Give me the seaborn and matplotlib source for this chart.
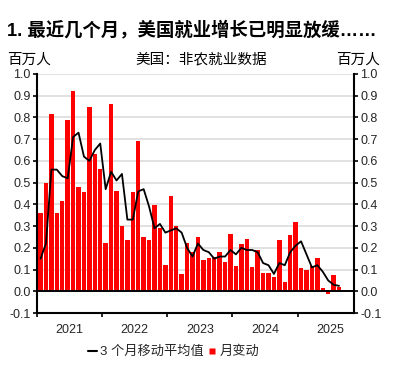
import numpy as np
import pandas as pd
import matplotlib
matplotlib.use("Agg")
import matplotlib.pyplot as plt
import seaborn as sns
from matplotlib.lines import Line2D
from matplotlib.ticker import FormatStrFormatter

# US nonfarm payrolls, monthly change (millions), Jan 2021 - Aug 2025
months = pd.date_range("2021-01-01", "2025-08-01", freq="MS")
monthly_change = [
    0.36, 0.50, 0.815, 0.36, 0.415, 0.79, 0.92, 0.48, 0.457, 0.85, 0.63, 0.565,   # 2021
    0.22, 0.86, 0.46, 0.30, 0.237, 0.455, 0.69, 0.25, 0.235, 0.395, 0.29, 0.123,  # 2022
    0.437, 0.30, 0.08, 0.22, 0.18, 0.25, 0.145, 0.152, 0.157, 0.18, 0.137, 0.265,  # 2023
    0.115, 0.218, 0.242, 0.114, 0.188, 0.083, 0.083, 0.068, 0.234, 0.042, 0.257, 0.318,  # 2024
    0.106, 0.098, 0.118, 0.154, 0.015, -0.014, 0.077, 0.018,  # 2025
]
# 3-month moving average as drawn
moving_avg = [
    0.15, 0.22, 0.56, 0.56, 0.53, 0.52, 0.71, 0.73, 0.62, 0.60, 0.65, 0.68,
    0.47, 0.55, 0.51, 0.54, 0.33, 0.33, 0.46, 0.47, 0.39, 0.29, 0.31, 0.27,
    0.28, 0.29, 0.27, 0.20, 0.16, 0.22, 0.19, 0.18, 0.15, 0.16, 0.16, 0.19,
    0.17, 0.20, 0.19, 0.19, 0.18, 0.13, 0.12, 0.08, 0.13, 0.12, 0.18, 0.21,
    0.23, 0.17, 0.11, 0.12, 0.09, 0.05, 0.03, 0.025,
]
years = ["2021", "2022", "2023", "2024", "2025"]

RED = "#ff0000"
GREY_TXT = "#262626"
GRID = "#d9d9d9"

sns.set_theme(style="white")
plt.rcParams["font.family"] = ["Liberation Sans", "Noto Sans CJK SC"]
plt.rcParams["axes.unicode_minus"] = False

df = pd.DataFrame({"month": months, "change": monthly_change, "ma3": moving_avg})
# month index from Jan 2021, bar sits inside its month slot
df["pos"] = (df["month"].dt.year - 2021) * 12 + df["month"].dt.month - 1 + 0.65

fig = plt.figure(figsize=(4.08, 3.70), dpi=100)
ax = fig.add_axes([0.0907, 0.154, 0.7769, 0.646])

# horizontal grid
ax.yaxis.grid(True, color=GRID, lw=1.1)
ax.set_axisbelow(True)

sns.barplot(data=df, x="pos", y="change", native_scale=True, orient="x",
            width=0.82, color=RED, saturation=1, errorbar=None,
            linewidth=0, ax=ax, zorder=2)
ax.axhline(0, color="black", lw=1.4, zorder=3)
sns.lineplot(data=df, x="pos", y="ma3", color="black", lw=1.3, ax=ax, zorder=4)

ax.set_xlim(0, 58.4)
ax.set_ylim(-0.1, 1.0)
ax.set_xlabel("")
ax.set_ylabel("")

# y ticks on both sides
ax.set_yticks(np.round(np.arange(-0.1, 1.01, 0.1), 1))
ax.yaxis.set_major_formatter(FormatStrFormatter("%.1f"))
ax.tick_params(axis="y", left=True, right=True, labelleft=True, labelright=True,
               direction="out", length=3, width=1.2, pad=1.5,
               labelsize=9, labelcolor=GREY_TXT, color="black")

# year boundaries as ticks, labels in the middle of each year
ax.set_xticks([0, 12, 24, 36, 48])
ax.set_xticklabels([])
ax.set_xticks([6, 18, 30, 42, 54], minor=True)
ax.set_xticklabels(years, minor=True)
ax.tick_params(axis="x", which="major", bottom=True, direction="out",
               length=3, width=1.2, color="black")
ax.tick_params(axis="x", which="minor", bottom=False, length=0, pad=8,
               labelsize=9, labelcolor=GREY_TXT)

ax.spines["top"].set_visible(False)
for side in ["left", "right", "bottom"]:
    ax.spines[side].set_color("black")
    ax.spines[side].set_linewidth(1.5)

# titles
fig.text(0.018, 0.919, "1. 最近几个月，美国就业增长已明显放缓……",
         fontsize=13.2, weight="bold", va="center", color="black")
fig.text(0.018, 0.84, "百万人", fontsize=10.5, va="center", color="black")
fig.text(0.493, 0.84, "美国：非农就业数据", fontsize=10.5, ha="center", va="center", color="black")
fig.text(0.932, 0.84, "百万人", fontsize=10.5, ha="right", va="center", color="black")

# legend
handles = [
    Line2D([0], [0], color="black", lw=1.5),
    Line2D([0], [0], marker="s", color="none", markerfacecolor=RED,
           markeredgecolor="none", markersize=4),
]
fig.legend(handles, ["3 个月移动平均值", "月变动"], loc="center",
           bbox_to_anchor=(0.425, 0.049), ncol=2, frameon=False, fontsize=9.5,
           handlelength=0.7, handletextpad=0.2, columnspacing=0.3)

fig.savefig("out.png", dpi=100)
